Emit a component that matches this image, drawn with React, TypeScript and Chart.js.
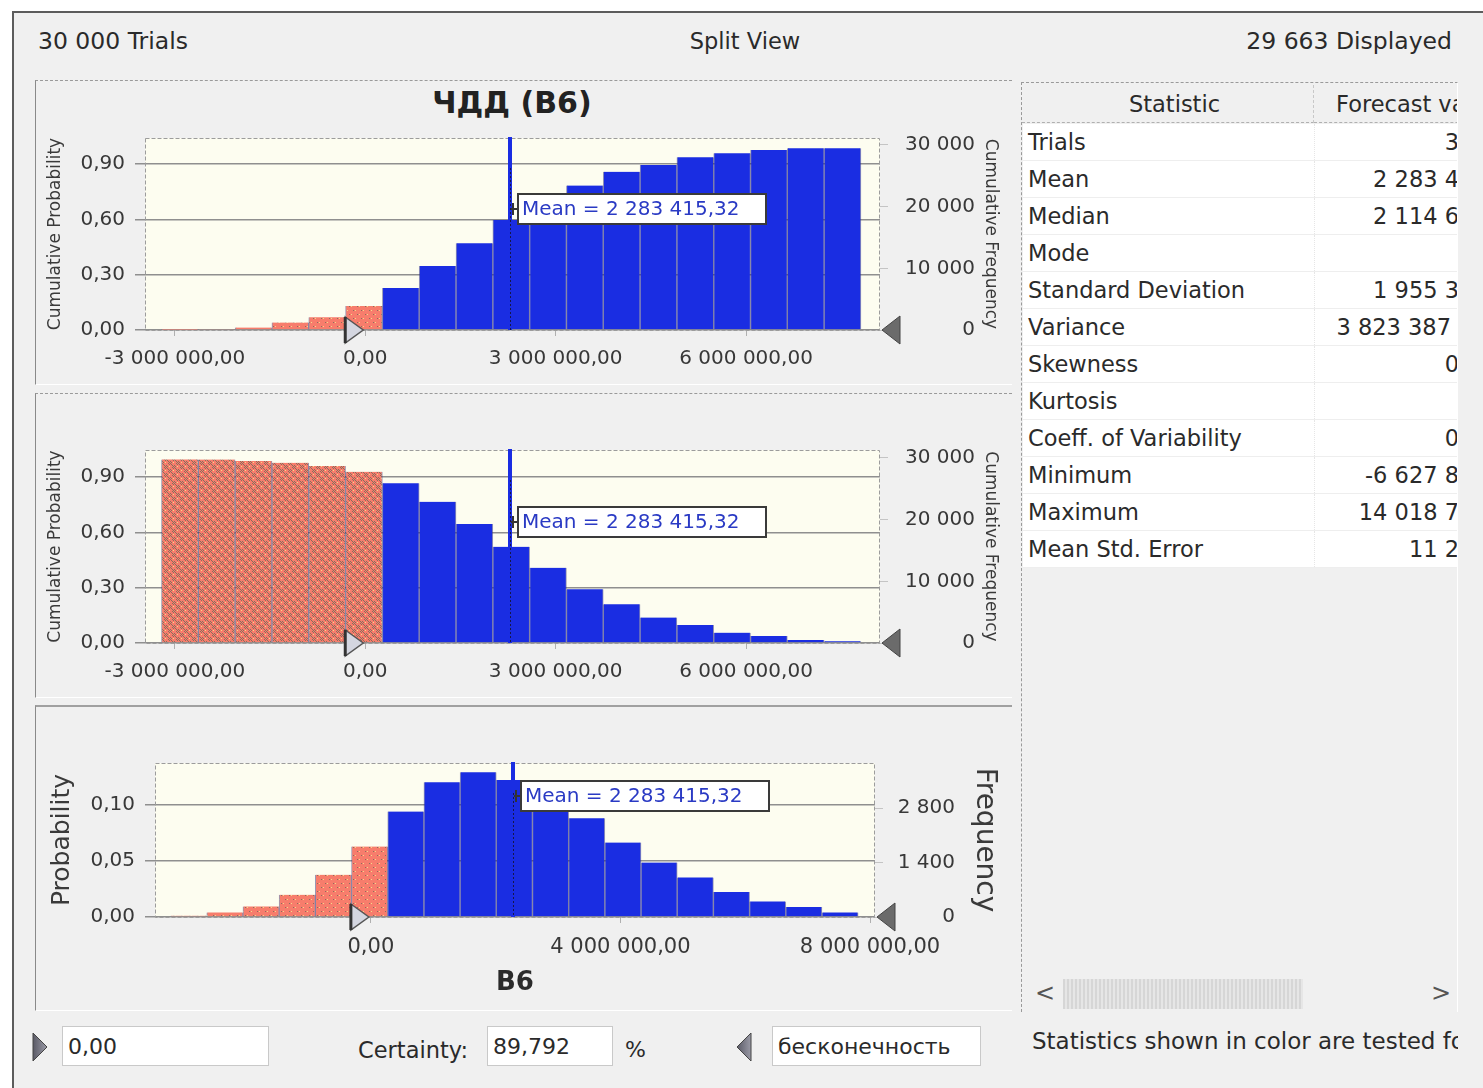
import React, { useEffect, useRef } from "react";
import { Chart, registerables } from "chart.js";

Chart.register(...registerables);

const FONT = '"DejaVu Sans", "Liberation Sans", sans-serif';
const BLUE = "#1a2de2";
const SALMON = "#f77d6c";
const TXT = "#383838";

// ---- data ----
const binCenters = [
  -2920000, -2340000, -1760000, -1180000, -600000, -20000, 560000, 1140000, 1720000, 2300000,
  2880000, 3460000, 4040000, 4620000, 5200000, 5780000, 6360000, 6940000, 7520000,
];
const cumulativeProb = [
  0.001, 0.005, 0.013, 0.04, 0.069, 0.13, 0.228, 0.347, 0.47, 0.597, 0.692, 0.783, 0.858, 0.894,
  0.937, 0.958, 0.976, 0.985, 0.986,
];
const reverseCumProb = [
  0.996, 0.995, 0.987, 0.978, 0.96, 0.929, 0.866, 0.766, 0.645, 0.522, 0.408, 0.291, 0.21, 0.138,
  0.098, 0.056, 0.038, 0.016, 0.009,
];
const probability = [
  0.0012, 0.0041, 0.0094, 0.0198, 0.0376, 0.0627, 0.0938, 0.1199, 0.1288, 0.1219, 0.105, 0.0879,
  0.0663, 0.0485, 0.0352, 0.0222, 0.0139, 0.0089, 0.0041,
];
const meanValue = 2283415.32;
const certaintyLower = 0;
const certaintyText = "89,792";
const trialsText = "30 000 Trials";
const displayedText = "29 663 Displayed";

const xTicksTop = [-3000000, 0, 3000000, 6000000];
const xTicksBottom = [0, 4000000, 8000000];
const cumProbTicks = [0, 0.3, 0.6, 0.9];
const cumFreqTicks = [0, 10000, 20000, 30000];
const probTicks = [0, 0.05, 0.1];
const freqTicks = [0, 1400, 2800];

const statNames = [
  "Trials", "Mean", "Median", "Mode", "Standard Deviation", "Variance", "Skewness", "Kurtosis",
  "Coeff. of Variability", "Minimum", "Maximum", "Mean Std. Error",
];
const statValues = [
  "3", "2 283 4", "2 114 6", "", "1 955 3", "3 823 387", "0", "", "0", "-6 627 8", "14 018 7", "11 2",
];

function fmt(v: number, d: number): string {
  const neg = v < 0 && Math.abs(v) > 1e-12;
  const s = Math.abs(v).toFixed(d);
  const parts = s.split(".");
  const ip = parts[0].replace(/\B(?=(\d{3})+(?!\d))/g, " ");
  return (neg ? "-" : "") + ip + (parts[1] ? "," + parts[1] : "");
}

function makePattern(heavy: boolean): any {
  const c = document.createElement("canvas");
  c.width = 8;
  c.height = 8;
  const g = c.getContext("2d");
  if (!g) return SALMON;
  g.fillStyle = SALMON;
  g.fillRect(0, 0, 8, 8);
  for (let y = 0; y < 8; y++) {
    for (let x = 0; x < 8; x++) {
      let dark = false;
      let light = false;
      if (heavy) {
        const block = ((x >> 2) + (y >> 2)) % 2 === 0;
        if (block && (x + y) % 2 === 0) dark = true;
        if (!block && x % 4 === 1 && y % 4 === 1) light = true;
      } else {
        if ((x === 1 && y === 1) || (x === 5 && y === 5)) dark = true;
        if ((x === 3 && y === 1) || (x === 7 && y === 5)) light = true;
      }
      if (dark) {
        g.fillStyle = "#8a6e5e";
        g.fillRect(x, y, 1, 1);
      } else if (light) {
        g.fillStyle = "#f2da8a";
        g.fillRect(x, y, 1, 1);
      }
    }
  }
  return g.createPattern(c, "repeat") || SALMON;
}

type Opts = {
  values: number[];
  pattern: any;
  xMin: number;
  xMax: number;
  xTicks: number[];
  xTickSize: number;
  xPad: number;
  leftMax: number;
  leftTicks: number[];
  rightMax: number;
  rightTicks: number[];
  leftW: number;
  rightW: number;
  padRight: number;
  xH: number;
  padTop: number;
  leftTitle: string;
  leftTitleSize: number;
  leftTitlePad: number;
  rightTitle: string;
  rightTitleSize: number;
  rightTitleX: number;
  rightTickPad: number;
  xTitle?: string;
  labelDy: number;
};

function decor(o: Opts) {
  return {
    id: "decor",
    beforeDraw(chart: any) {
      const { ctx, chartArea: a } = chart;
      ctx.save();
      ctx.fillStyle = "#fdfdf0";
      ctx.fillRect(a.left, a.top, a.right - a.left, a.bottom - a.top);
      ctx.restore();
    },
    beforeDatasetsDraw(chart: any) {
      const { ctx, chartArea: a } = chart;
      ctx.save();
      ctx.strokeStyle = "#9c9c9c";
      ctx.lineWidth = 1;
      ctx.setLineDash([4, 2]);
      ctx.strokeRect(a.left + 0.5, a.top + 0.5, a.right - a.left - 1, a.bottom - a.top);
      ctx.restore();
    },
    afterDatasetsDraw(chart: any) {
      const { ctx, chartArea: a, scales } = chart;
      const xs = scales.x;
      const mx = Math.round(xs.getPixelForValue(meanValue));
      ctx.save();
      ctx.fillStyle = BLUE;
      ctx.fillRect(mx - 2, a.top - 1, 4, a.bottom - a.top + 1);
      ctx.strokeStyle = "#16164a";
      ctx.lineWidth = 1;
      ctx.setLineDash([2, 2]);
      ctx.beginPath();
      ctx.moveTo(mx + 0.5, a.top + 30);
      ctx.lineTo(mx + 0.5, a.bottom);
      ctx.stroke();
      ctx.setLineDash([]);
      const bx = mx + 8;
      const by = a.top + o.labelDy;
      const bw = 248;
      const bh = 30;
      ctx.strokeStyle = "#333";
      ctx.lineWidth = 2;
      ctx.beginPath();
      ctx.moveTo(mx + 1, by + bh / 2);
      ctx.lineTo(bx, by + bh / 2);
      ctx.moveTo(mx + 3, by + bh / 2 - 6);
      ctx.lineTo(mx + 3, by + bh / 2 + 6);
      ctx.stroke();
      ctx.fillStyle = "#ffffff";
      ctx.fillRect(bx, by, bw, bh);
      ctx.strokeStyle = "#3a3a3a";
      ctx.lineWidth = 2;
      ctx.strokeRect(bx, by, bw, bh);
      ctx.fillStyle = "#2a3ac4";
      ctx.font = `20px ${FONT}`;
      ctx.textBaseline = "middle";
      ctx.textAlign = "left";
      ctx.fillText("Mean = " + fmt(meanValue, 2), bx + 4, by + bh / 2 + 1);
      // certainty grabbers
      const x0 = xs.getPixelForValue(certaintyLower);
      const yb = a.bottom;
      ctx.beginPath();
      ctx.moveTo(x0 - 20, yb - 13);
      ctx.lineTo(x0 - 2, yb);
      ctx.lineTo(x0 - 20, yb + 13);
      ctx.closePath();
      ctx.fillStyle = "#d4d6e0";
      ctx.fill();
      ctx.strokeStyle = "#555";
      ctx.lineWidth = 1.5;
      ctx.stroke();
      ctx.beginPath();
      ctx.moveTo(x0 - 20, yb - 13);
      ctx.lineTo(x0 - 20, yb + 13);
      ctx.lineWidth = 3;
      ctx.strokeStyle = "#333";
      ctx.stroke();
      const xr = a.right + 2;
      ctx.beginPath();
      ctx.moveTo(xr, yb);
      ctx.lineTo(xr + 18, yb - 14);
      ctx.lineTo(xr + 18, yb + 14);
      ctx.closePath();
      ctx.fillStyle = "#6b6b6b";
      ctx.fill();
      ctx.strokeStyle = "#444";
      ctx.lineWidth = 1;
      ctx.stroke();
      ctx.restore();
    },
    afterDraw(chart: any) {
      const { ctx, chartArea: a } = chart;
      ctx.save();
      ctx.translate(o.rightTitleX, (a.top + a.bottom) / 2);
      ctx.rotate(Math.PI / 2);
      ctx.textAlign = "center";
      ctx.textBaseline = "middle";
      ctx.fillStyle = "#3a3a3a";
      ctx.font = `${o.rightTitleSize}px ${FONT}`;
      ctx.fillText(o.rightTitle, 0, 0);
      ctx.restore();
    },
  };
}

function buildChart(canvas: HTMLCanvasElement, o: Opts) {
  const colors = binCenters.map((c) => (c < certaintyLower ? o.pattern : BLUE));
  return new Chart(canvas, {
    type: "bar",
    data: {
      datasets: [
        {
          data: binCenters.map((x, i) => ({ x, y: o.values[i] })),
          backgroundColor: colors,
          borderColor: "rgba(50,50,120,0.5)",
          borderWidth: { left: 1, right: 1, top: 0, bottom: 0 },
          barPercentage: 1,
          categoryPercentage: 1,
        } as any,
      ],
    },
    options: {
      responsive: false,
      animation: false,
      devicePixelRatio: 1,
      layout: { padding: { top: o.padTop, left: 0, right: o.padRight, bottom: 0 } },
      plugins: { legend: { display: false }, tooltip: { enabled: false } },
      scales: {
        x: {
          type: "linear",
          min: o.xMin,
          max: o.xMax,
          offset: false,
          grid: { offset: false, drawOnChartArea: false, drawTicks: true, tickLength: 6, color: "#b0b0b0" },
          border: { display: false },
          afterBuildTicks: (s: any) => {
            s.ticks = o.xTicks.map((v) => ({ value: v }));
          },
          afterFit: (s: any) => {
            s.height = o.xH;
          },
          ticks: {
            autoSkip: false,
            maxRotation: 0,
            minRotation: 0,
            padding: o.xPad,
            color: TXT,
            font: { family: FONT, size: o.xTickSize },
            callback: (v: any) => fmt(Number(v), 2),
          },
          title: o.xTitle
            ? {
                display: true,
                text: o.xTitle,
                color: "#2a2a2a",
                font: { family: FONT, size: 26, weight: "bold" },
                padding: { top: 0, bottom: 11 },
              }
            : { display: false },
        },
        y: {
          position: "left",
          min: 0,
          max: o.leftMax,
          grid: { color: "#8f8f8f", lineWidth: 1.5, tickLength: 10, drawOnChartArea: true },
          border: { display: false },
          afterBuildTicks: (s: any) => {
            s.ticks = o.leftTicks.map((v) => ({ value: v }));
          },
          afterFit: (s: any) => {
            s.width = o.leftW;
          },
          ticks: {
            autoSkip: false,
            padding: 10,
            color: TXT,
            font: { family: FONT, size: 20 },
            callback: (v: any) => fmt(Number(v), 2),
          },
          title: {
            display: true,
            text: o.leftTitle,
            color: "#3a3a3a",
            font: { family: FONT, size: o.leftTitleSize },
            padding: { top: o.leftTitlePad, bottom: 0 },
          },
        },
        y2: {
          position: "right",
          min: 0,
          max: o.rightMax,
          grid: { color: "#c4c4c4", drawOnChartArea: false, tickLength: 8 },
          border: { display: false },
          afterBuildTicks: (s: any) => {
            s.ticks = o.rightTicks.map((v) => ({ value: v }));
          },
          afterFit: (s: any) => {
            s.width = o.rightW;
          },
          ticks: {
            autoSkip: false,
            crossAlign: "far",
            padding: o.rightTickPad,
            color: TXT,
            font: { family: FONT, size: 20 },
            callback: (v: any) => fmt(Number(v), 0),
          },
          title: { display: false },
        },
      },
    } as any,
    plugins: [decor(o) as any],
  });
}

const abs = (l: number, t: number, extra: any = {}): any => ({ position: "absolute", left: l, top: t, ...extra });

function Tri({ left, top, dir }: { left: number; top: number; dir: "r" | "l" }) {
  const pts = dir === "r" ? "1,1 15,15 1,29" : "15,1 1,15 15,29";
  return (
    <svg style={abs(left, top)} width={17} height={31}>
      <defs>
        <linearGradient id={"g" + dir} x1="0" y1="0" x2="1" y2="0">
          <stop offset="0" stopColor="#5a5a66" />
          <stop offset="1" stopColor="#9a9aa6" />
        </linearGradient>
      </defs>
      <polygon points={pts} fill={`url(#g${dir})`} stroke="#444" strokeWidth="1" />
    </svg>
  );
}

export default function App() {
  const r1 = useRef<HTMLCanvasElement>(null);
  const r2 = useRef<HTMLCanvasElement>(null);
  const r3 = useRef<HTMLCanvasElement>(null);

  useEffect(() => {
    const light = makePattern(false);
    const heavy = makePattern(true);
    const common = {
      xTickSize: 20,
      xPad: 11,
      leftW: 109,
      rightW: 95,
      padRight: 37,
      xH: 55,
      padTop: 57,
      leftTitle: "Cumulative Probability",
      leftTitleSize: 17,
      leftTitlePad: 9,
      rightTitle: "Cumulative Frequency",
      rightTitleSize: 17,
      rightTitleX: 954,
      rightTickPad: 17,
      xMin: -3470000,
      xMax: 8110000,
      xTicks: xTicksTop,
      leftTicks: cumProbTicks,
      rightTicks: cumFreqTicks,
    };
    const charts: Chart[] = [];
    if (r1.current)
      charts.push(
        buildChart(r1.current, {
          ...common,
          values: cumulativeProb,
          pattern: light,
          leftMax: 1.041,
          rightMax: 31120,
          labelDy: 56,
        })
      );
    if (r2.current)
      charts.push(
        buildChart(r2.current, {
          ...common,
          values: reverseCumProb,
          pattern: heavy,
          leftMax: 1.047,
          rightMax: 31280,
          labelDy: 57,
        })
      );
    if (r3.current)
      charts.push(
        buildChart(r3.current, {
          values: probability,
          pattern: light,
          xMin: -3460000,
          xMax: 8080000,
          xTicks: xTicksBottom,
          xTickSize: 21,
          xPad: 12,
          leftMax: 0.137,
          leftTicks: probTicks,
          rightMax: 3964,
          rightTicks: freqTicks,
          leftW: 119,
          rightW: 80,
          padRight: 57,
          xH: 93,
          padTop: 57,
          leftTitle: "Probability",
          leftTitleSize: 25,
          leftTitlePad: 11,
          rightTitle: "Frequency",
          rightTitleSize: 28,
          rightTitleX: 948,
          rightTickPad: 15,
          xTitle: "B6",
          labelDy: 18,
        })
      );
    return () => charts.forEach((c) => c.destroy());
  }, []);

  const txt = { fontFamily: FONT, color: "#2a2a2a", whiteSpace: "nowrap" as const };
  const input = (l: number, w: number, text: string) => (
    <div
      style={abs(l, 1026, {
        width: w,
        height: 40,
        background: "#fff",
        border: "1px solid #c9c9c9",
        boxSizing: "border-box",
        fontSize: 22,
        lineHeight: "40px",
        paddingLeft: 5,
        ...txt,
      })}
    >
      {text}
    </div>
  );

  return (
    <div style={{ position: "fixed", left: 0, top: 0, width: 1483, height: 1088, background: "#fff", overflow: "hidden" }}>
      <div
        style={abs(12, 11, {
          width: 1471,
          height: 1077,
          background: "#f0f0f0",
          borderLeft: "2px solid #5c5c5c",
          borderTop: "2px solid #5c5c5c",
        })}
      />
      <div style={abs(38, 28, { ...txt, fontSize: 23.5, lineHeight: "26px" })}>{trialsText}</div>
      <div style={abs(645, 28, { ...txt, width: 200, textAlign: "center", fontSize: 22.5, lineHeight: "26px" })}>Split View</div>
      <div style={abs(1052, 28, { ...txt, width: 400, textAlign: "right", fontSize: 23.5, lineHeight: "26px" })}>{displayedText}</div>

      {/* chart panels */}
      <div style={abs(35, 80, { width: 977, height: 305, borderTop: "1px dashed #9a9a9a", borderLeft: "1px solid #8a8a8a", borderBottom: "1px solid #ffffff", boxSizing: "border-box" })} />
      <div style={abs(35, 393, { width: 977, height: 305, borderTop: "1px dashed #9a9a9a", borderLeft: "1px solid #8a8a8a", borderBottom: "1px solid #ffffff", boxSizing: "border-box" })} />
      <div style={abs(35, 705, { width: 977, height: 306, borderTop: "2px solid #a0a0a0", borderLeft: "1px solid #8a8a8a", borderBottom: "1px solid #ffffff", boxSizing: "border-box" })} />
      <div style={abs(312, 86, { ...txt, width: 400, textAlign: "center", fontSize: 30, fontWeight: "bold", lineHeight: "34px", color: "#222" })}>ЧДД (B6)</div>

      <canvas ref={r1} width={976} height={304} style={abs(36, 81, { width: 976, height: 304 })} />
      <canvas ref={r2} width={976} height={305} style={abs(36, 393, { width: 976, height: 305 })} />
      <canvas ref={r3} width={976} height={304} style={abs(36, 706, { width: 976, height: 304 })} />

      {/* statistics table */}
      <div style={abs(1021, 82, { width: 437, height: 930, borderLeft: "1px dashed #9a9a9a", borderTop: "1px dashed #9a9a9a", borderRight: "1px solid #ffffff", boxSizing: "border-box", overflow: "hidden" })}>
        <div style={abs(0, 2, { width: 292, height: 38, borderBottom: "1px dashed #b0b0b0", borderRight: "1px dashed #c8c8c8", boxSizing: "border-box", textAlign: "center", paddingLeft: 14, fontSize: 22.5, lineHeight: "38px", ...txt })}>Statistic</div>
        <div style={abs(292, 2, { width: 200, height: 38, borderBottom: "1px dashed #b0b0b0", boxSizing: "border-box", paddingLeft: 22, fontSize: 22.5, lineHeight: "38px", ...txt })}>Forecast values</div>
        {statNames.map((n, i) => (
          <div key={n} style={abs(1, 41 + 37 * i, { width: 436, height: 37, background: "#fff", borderBottom: "1px solid #eeeeee", boxSizing: "border-box" })}>
            <div style={abs(5, 0, { fontSize: 22.5, lineHeight: "36px", ...txt })}>{n}</div>
            <div style={abs(291, 0, { width: 145, height: 36, borderLeft: "1px dotted #e6e6e6", textAlign: "right", paddingRight: n === "Variance" ? 8 : 0, boxSizing: "border-box", fontSize: 22.5, lineHeight: "36px", ...txt })}>
              {statValues[i]}
            </div>
          </div>
        ))}
        <div style={abs(1, 893, { width: 436, height: 36, background: "#f0f0f0" })}>
          <div style={abs(12, 0, { ...txt, fontSize: 24, lineHeight: "34px", color: "#555" })}>&lt;</div>
          <div style={abs(40, 3, { width: 240, height: 30, background: "repeating-linear-gradient(90deg,#d6d6d6 0 2px,#e6e6e6 2px 4px)" })} />
          <div style={abs(408, 0, { ...txt, fontSize: 24, lineHeight: "34px", color: "#555" })}>&gt;</div>
        </div>
      </div>

      {/* footer */}
      <Tri left={32} top={1032} dir="r" />
      {input(62, 207, "0,00")}
      <div style={abs(358, 1036, { ...txt, fontSize: 22.5, lineHeight: "28px" })}>Certainty:</div>
      {input(487, 126, certaintyText)}
      <div style={abs(625, 1036, { ...txt, fontSize: 22, lineHeight: "28px" })}>%</div>
      <Tri left={736} top={1032} dir="l" />
      {input(772, 209, "бесконечность")}
      <div style={abs(1032, 1027, { ...txt, fontSize: 23, lineHeight: "28px", width: 426, overflow: "hidden" })}>
        Statistics shown in color are tested for fit
      </div>
    </div>
  );
}
